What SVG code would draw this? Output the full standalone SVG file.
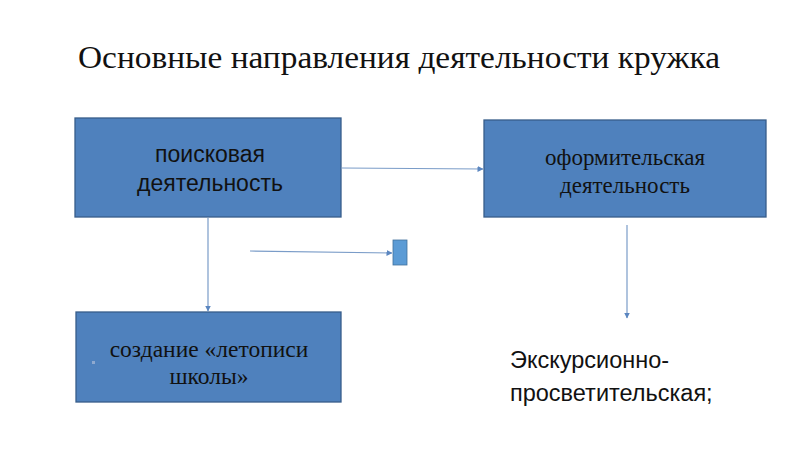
<svg xmlns="http://www.w3.org/2000/svg" width="800" height="450" viewBox="0 0 800 450">
<defs>
<style>
.box{fill:#4F81BD;stroke:#385D8A;stroke-width:1.3}
.conn{stroke:#7A9CC8;stroke-width:1.2;fill:none}
.sans{font-family:"Liberation Sans",Arial,sans-serif;fill:#111}
.serif{font-family:"Liberation Serif","Times New Roman",serif;fill:#111}
</style>
<marker id="arr" viewBox="0 0 6 6" refX="5.5" refY="3" markerWidth="5" markerHeight="5" orient="auto">
<path d="M0,0 L6,3 L0,6 z" fill="#5B86C0"/>
</marker>
</defs>
<rect width="800" height="450" fill="#fff"/>
<text class="serif" x="399" y="68" font-size="32" text-anchor="middle" textLength="642" lengthAdjust="spacingAndGlyphs">Основные направления  деятельности кружка</text>
<g id="connectors">
<line class="conn" x1="342" y1="168" x2="483" y2="169" marker-end="url(#arr)"/>
<line class="conn" x1="208" y1="218" x2="208" y2="311" marker-end="url(#arr)"/>
<line class="conn" x1="250" y1="251" x2="392" y2="253" marker-end="url(#arr)"/>
<line class="conn" x1="627" y1="225" x2="627" y2="318" marker-end="url(#arr)"/>
</g>
<g id="node-search">
<rect class="box" x="75" y="118" width="266" height="99"/>
<text class="sans" x="210" y="162" font-size="23" text-anchor="middle">поисковая</text>
<text class="sans" x="210" y="191" font-size="23" text-anchor="middle">деятельность</text>
</g>
<g id="node-design">
<rect class="box" x="484" y="120" width="282" height="97"/>
<text class="serif" x="625" y="165" font-size="23" text-anchor="middle">оформительская</text>
<text class="serif" x="625" y="193" font-size="23" text-anchor="middle">деятельность</text>
</g>
<g id="node-small">
<rect x="393" y="240" width="14" height="25" fill="#5B9BD5" stroke="#41719C" stroke-width="0.8"/>
</g>
<g id="node-chronicle">
<rect class="box" x="76" y="312" width="265" height="90"/>
<rect x="92" y="361" width="3" height="3" fill="#8FA9CF"/>
<text class="serif" x="209" y="357" font-size="23.5" text-anchor="middle">создание «летописи</text>
<text class="serif" x="209" y="384" font-size="23.5" text-anchor="middle">школы»</text>
</g>
<g id="node-excursion">
<text class="sans" x="510" y="368" font-size="23.5">Экскурсионно-</text>
<text class="sans" x="510" y="401" font-size="23.5">просветительская;</text>
</g>
</svg>
